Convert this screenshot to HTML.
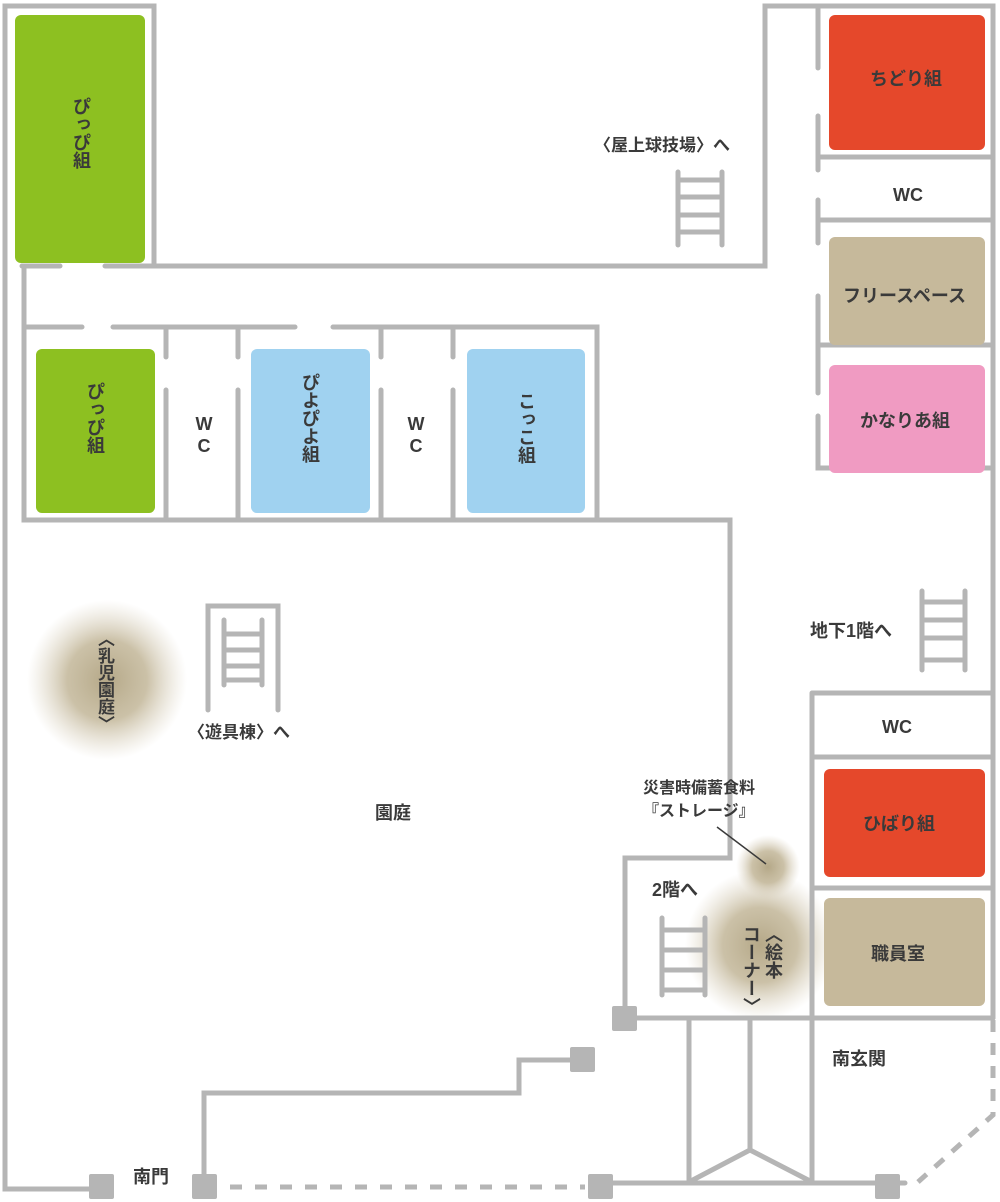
<!DOCTYPE html>
<html><head><meta charset="utf-8"><style>
body{margin:0;background:#fff;}
#w{position:relative;width:1000px;height:1202px;overflow:hidden;font-family:"Liberation Sans","Noto Sans CJK JP",sans-serif;color:#3a3a3a;font-weight:bold;}
.t{position:absolute;font-size:18px;white-space:nowrap;line-height:1;}
.v{position:absolute;font-size:18px;writing-mode:vertical-rl;line-height:1;white-space:nowrap;}
svg{position:absolute;left:0;top:0}
</style></head><body><div id="w">
<svg width="1000" height="1202" viewBox="0 0 1000 1202">
<defs>
<radialGradient id="g"><stop offset="0" stop-color="#b5a888"/><stop offset="0.5" stop-color="#c2b698" stop-opacity="0.85"/><stop offset="1" stop-color="#d8cfbb" stop-opacity="0"/></radialGradient>
</defs>
<circle cx="107" cy="680" r="80" fill="url(#g)"/>
<circle cx="760" cy="945" r="75" fill="url(#g)"/>
<circle cx="768" cy="867" r="32" fill="url(#g)"/>
<g fill="none" stroke="#b5b5b5" stroke-width="5" stroke-linecap="round">
<path d="M90 1189 H5 V6 H154 V266 H765 V6 H993 V1018"/>
<path d="M22 266 H60 M105 266 H154"/>
<path d="M24 266 V520 H730 V858 H625 V1018 H993"/>
<path d="M26 327 H82 M113 327 H295 M333 327 H597 V520"/>
<path d="M166 327 V357 M166 390 V520 M238 327 V357 M238 390 V520 M381 327 V357 M381 390 V520 M453 327 V357 M453 390 V520"/>
<path d="M818 6 V68 M818 116 V170 M818 200 V243 M818 296 V393 M818 416 V468 H993 M818 157 H993 M818 220 H993 M818 345 H993"/>
<path d="M812 693 H993 M812 693 V1183 M812 757 H993 M812 888 H993"/>
<path d="M600 1183 H905 M689 1018 V1183 M750 1018 V1150 L689 1182 M750 1150 L812 1182"/>
<path d="M204 1185 V1093 H519 V1060 H570"/>
<path d="M230 1187 H585" stroke-dasharray="12 13" stroke-linecap="butt"/>
<path d="M993 1020 V1115 L918 1182" stroke-dasharray="12 11" stroke-linecap="butt"/>
<path d="M678 172 V245 M722 172 V245 M678 180 H722 M678 197 H722 M678 215 H722 M678 232 H722"/>
<path d="M208 710 V606 H278 V710 M224 620 V685 M262 620 V685 M224 634 H262 M224 650 H262 M224 666 H262 M224 680 H262"/>
<path d="M922 591 V670 M965 591 V670 M922 602 H965 M922 620 H965 M922 638 H965 M922 660 H965"/>
<path d="M662 918 V995 M705 918 V995 M662 930 H705 M662 950 H705 M662 970 H705 M662 990 H705"/>
</g>
<path d="M717 827 L766 864" stroke="#3a3a3a" stroke-width="1.5"/>
<g fill="#b5b5b5">
<rect x="612" y="1006" width="25" height="25" rx="2"/>
<rect x="570" y="1047" width="25" height="25" rx="2"/>
<rect x="89" y="1174" width="25" height="25" rx="2"/>
<rect x="192" y="1174" width="25" height="25" rx="2"/>
<rect x="588" y="1174" width="25" height="25" rx="2"/>
<rect x="875" y="1174" width="25" height="25" rx="2"/>
</g>
<rect x="15" y="15" width="130" height="248" rx="6" fill="#8dc021"/>
<rect x="36" y="349" width="119" height="164" rx="6" fill="#8dc021"/>
<rect x="251" y="349" width="119" height="164" rx="6" fill="#a0d2f0"/>
<rect x="467" y="349" width="118" height="164" rx="6" fill="#a0d2f0"/>
<rect x="829" y="15" width="156" height="135" rx="6" fill="#e5482b"/>
<rect x="829" y="237" width="156" height="108" rx="6" fill="#c6b99b"/>
<rect x="829" y="365" width="156" height="108" rx="6" fill="#f09bc2"/>
<rect x="824" y="769" width="161" height="108" rx="6" fill="#e5482b"/>
<rect x="824" y="898" width="161" height="108" rx="6" fill="#c6b99b"/>
</svg>
<div class="v" style="left:72px;top:97px">ぴっぴ組</div>
<div class="v" style="left:86px;top:382px">ぴっぴ組</div>
<div class="t" style="left:195px;top:413px;font-size:18px;line-height:22px;text-align:center;width:18px;white-space:normal">W C</div>
<div class="v" style="left:301px;top:373px">ぴよぴよ組</div>
<div class="t" style="left:407px;top:413px;font-size:18px;line-height:22px;text-align:center;width:18px;white-space:normal">W C</div>
<div class="v" style="left:517px;top:392px">こっこ組</div>
<div class="t" style="left:870px;top:70px">ちどり組</div>
<div class="t" style="left:893px;top:186px">WC</div>
<div class="t" style="left:843px;top:287px">フリースペース</div>
<div class="t" style="left:860px;top:412px">かなりあ組</div>
<div class="t" style="left:594px;top:137px;font-size:17px">〈屋上球技場〉へ</div>
<div class="t" style="left:810px;top:622px">地下1階へ</div>
<div class="t" style="left:882px;top:718px">WC</div>
<div class="t" style="left:863px;top:815px">ひばり組</div>
<div class="t" style="left:871px;top:945px">職員室</div>
<div class="t" style="left:643px;top:777px;font-size:16px;line-height:23px">災害時備蓄食料<br>『ストレージ』</div>
<div class="t" style="left:652px;top:881px">2階へ</div>
<div class="v" style="left:740px;top:925px;font-size:18px;line-height:22px;height:90px">〈絵本<br>コーナー〉</div>
<div class="t" style="left:832px;top:1050px">南玄関</div>
<div class="v" style="left:96px;top:630px;font-size:17px">〈乳児園庭〉</div>
<div class="t" style="left:188px;top:724px;font-size:17px">〈遊具棟〉へ</div>
<div class="t" style="left:375px;top:804px">園庭</div>
<div class="t" style="left:133px;top:1168px">南門</div>
</div></body></html>
